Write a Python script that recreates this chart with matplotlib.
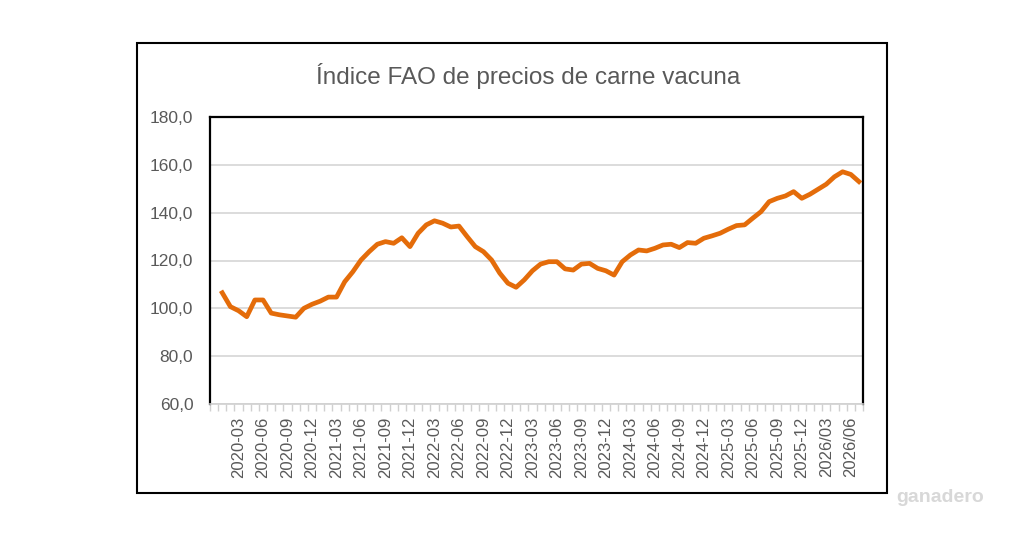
import matplotlib.pyplot as plt
from matplotlib.patches import Rectangle
import numpy as np

# datos mensuales (el primer mes 2019-12 va vacio)
meses = ['2019-12'] + ['%d-%02d' % (a, m) for a in range(2020, 2027) for m in range(1, 13)]
meses = meses[:80]

indice = [106.5, 100.7, 99.0, 96.5, 103.5, 103.5, 98.0, 97.3, 96.8, 96.3,
          100.0, 101.7, 103.0, 104.7, 104.7, 111.1, 115.3, 120.2, 123.7, 126.8,
          127.9, 127.2, 129.5, 125.8, 131.4, 134.9, 136.6, 135.6, 134.0, 134.4,
          130.0, 125.8, 123.7, 120.2, 114.7, 110.5, 108.8, 111.9, 115.7, 118.5,
          119.5, 119.5, 116.5, 116.0, 118.5, 118.8, 116.7, 115.7, 113.9, 119.5,
          122.3, 124.4, 124.0, 125.1, 126.5, 126.8, 125.4, 127.5, 127.2, 129.3,
          130.3, 131.4, 133.1, 134.6, 134.9, 137.7, 140.4, 144.6, 146.0, 147.0,
          148.8, 146.0, 147.7, 149.8, 151.9, 155.0, 157.1, 156.0, 153.0]

etiquetas = ['2020-03', '2020-06', '2020-09', '2020-12', '2021-03', '2021-06',
             '2021-09', '2021-12', '2022-03', '2022-06', '2022-09', '2022-12',
             '2023-03', '2023-06', '2023-09', '2023-12', '2024-03', '2024-06',
             '2024-09', '2024-12', '2025-03', '2025-06', '2025-09', '2025-12',
             '2026/03', '2026/06']

titulo = 'Índice FAO de precios de carne vacuna'

gris = '#595959'
naranja = '#E46C0A'
plt.rcParams['font.family'] = ['Liberation Sans', 'DejaVu Sans']

fig = plt.figure(figsize=(10.24, 5.35), dpi=100)
fig.patches.append(Rectangle((137/1024, 1-493/535), 750/1024, 450/535,
                             transform=fig.transFigure, fill=False,
                             edgecolor='black', linewidth=1.5))

ax = fig.add_axes([210/1024, 1-404/535, 653/1024, 287/535])
x = np.arange(1, len(indice)+1)
ax.plot(x, indice, color=naranja, linewidth=3.4, solid_joinstyle='round', zorder=3)

ax.set_xlim(-0.5, len(meses)-0.5)
ax.set_ylim(60, 180)
ax.set_yticks(np.arange(60, 181, 20))
ax.set_yticklabels([('%.1f' % v).replace('.', ',') for v in np.arange(60, 181, 20)])
ax.grid(axis='y', color='#d9d9d9', linewidth=1.3)
ax.set_axisbelow(True)

pos = [meses.index(e.replace('/', '-')) for e in etiquetas]
ax.set_xticks(pos)
ax.set_xticklabels(etiquetas, rotation=90)
ax.set_xticks(np.arange(-0.5, len(meses)), minor=True)
ax.tick_params(axis='x', which='major', length=0, pad=9, labelsize=12, labelcolor=gris)
ax.tick_params(axis='x', which='minor', length=5, color='#d0d0d0', width=1)
ax.tick_params(axis='y', length=0, pad=12, labelsize=12.5, labelcolor=gris)

for s in ['left', 'top', 'right']:
    ax.spines[s].set_color('black')
    ax.spines[s].set_linewidth(1.6)
ax.spines['bottom'].set_color('#d0d0d0')
ax.spines['bottom'].set_linewidth(1.2)

fig.text(528/1024, 1-76/535, titulo, ha='center', va='center', fontsize=17.5,
         color=gris, family=['Liberation Sans Narrow', 'Liberation Sans', 'DejaVu Sans'])

# marca de agua
fig.text(940/1024, 1-497/535, 'ganadero', ha='center', va='center', fontsize=14,
         fontweight='bold', color='#d8d8d8')

fig.savefig('out.png', dpi=100)
